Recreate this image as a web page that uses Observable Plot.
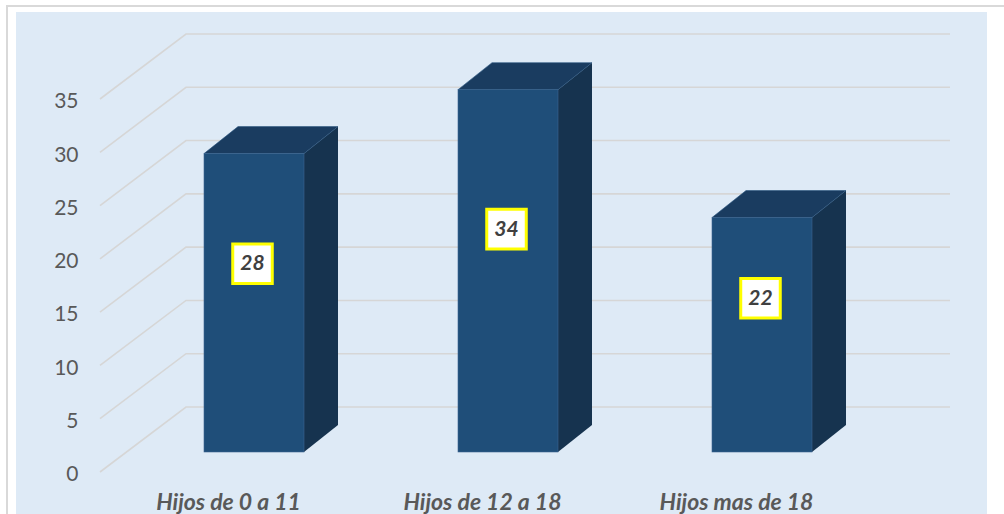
<!DOCTYPE html>
<html>
<head>
<meta charset="utf-8">
<script src="https://cdn.jsdelivr.net/npm/d3@7"></script>
<script src="https://cdn.jsdelivr.net/npm/@observablehq/plot@0.6"></script>
<style>
  html, body { margin: 0; padding: 0; background: #ffffff; }
  #wrap { position: relative; width: 1004px; height: 514px; overflow: hidden; }
  #frame { position: absolute; left: 6px; top: 5px; width: 1010px; height: 520px;
           border-left: 2px solid #d9d9d9; border-top: 2px solid #d9d9d9; }
  #panel { position: absolute; left: 16px; top: 12px; width: 971px; height: 510px; background: #deeaf6; }
  #chart { position: absolute; left: 0; top: 0; }
</style>
</head>
<body>
<div id="wrap">
  <div id="frame"></div>
  <div id="panel"></div>
  <div id="chart"></div>
</div>
<script>
// ---- data ----
const categories = ["Hijos de 0 a 11", "Hijos de 12 a 18", "Hijos mas de 18"];
const values = [28, 34, 22];
const yTicks = [0, 5, 10, 15, 20, 25, 30, 35];

const rows = categories.map((c, i) => ({cat: c, value: values[i]}));

// ---- 3D geometry (pixels) ----
const DEPTH_X = 86, DEPTH_Y = -65;   // wall depth
const BAR_DX = 26, BAR_DY = -20;     // bar front plane offset
const BAR_DEPTH_X = 34, BAR_DEPTH_Y = -27;
const INSET = 77;

const gridColor = "#d6d6d6";
const frontColor = "#1f4e79";
const topColor = "#1a3c60";
const sideColor = "#16334f";

// label anchor inside the bar (Excel-like placement)
const labelY = d => d.value * 0.54 + 2.6;

function gridMark() {
  return Plot.ruleY(yTicks, {
    render(index, scales, vals, dims) {
      const g = d3.create("svg:g");
      const x0 = dims.marginLeft, x1 = dims.width - dims.marginRight;
      for (const i of index) {
        const y = scales.y(yTicks[i]);
        g.append("path")
          .attr("d", `M${x0},${y}L${x0 + DEPTH_X},${y + DEPTH_Y}L${x1 + DEPTH_X},${y + DEPTH_Y}`)
          .attr("fill", "none")
          .attr("stroke", gridColor)
          .attr("stroke-width", 1.6);
      }
      return g.node();
    }
  });
}

function bars3d() {
  return Plot.barY(rows, {
    x: "cat", y: "value",
    render(index, scales, vals, dims) {
      const g = d3.create("svg:g");
      const bw = scales.x.bandwidth();
      for (const i of index) {
        const d = rows[i];
        const x1 = scales.x(d.cat) + INSET + BAR_DX;
        const x2 = scales.x(d.cat) + bw - INSET + BAR_DX;
        const yt = scales.y(d.value) + BAR_DY;
        const yb = scales.y(0) + BAR_DY;
        const ex = BAR_DEPTH_X, ey = BAR_DEPTH_Y;
        g.append("path")
          .attr("d", `M${x2},${yt}L${x2 + ex},${yt + ey}L${x2 + ex},${yb + ey}L${x2},${yb}Z`)
          .attr("fill", sideColor);
        g.append("path")
          .attr("d", `M${x1},${yt}L${x2},${yt}L${x2 + ex},${yt + ey}L${x1 + ex},${yt + ey}Z`)
          .attr("fill", topColor)
          .attr("stroke", "#2a5680").attr("stroke-width", 0.6).attr("stroke-linejoin", "round");
        g.append("rect")
          .attr("x", x1).attr("y", yt).attr("width", x2 - x1).attr("height", yb - yt)
          .attr("fill", frontColor)
          .attr("stroke", "#3c6590").attr("stroke-width", 0.6);
      }
      return g.node();
    }
  });
}

const chart = Plot.plot({
  width: 1004,
  height: 514,
  marginLeft: 100,
  marginRight: 140,
  marginTop: 99,
  marginBottom: 42,
  style: {background: "transparent", fontFamily: "Lato, 'Open Sans', sans-serif", fontSize: "21px", overflow: "visible"},
  x: {domain: categories, padding: 0, label: null},
  y: {domain: [0, 35], label: null},
  marks: [
    gridMark(),
    Plot.axisY(yTicks, {tickSize: 0, tickPadding: 22, fill: "#595959", fontSize: 21, dy: 2, label: null}),
    Plot.axisX({tickSize: 0, tickPadding: 21, fill: "#595959", fontSize: 23, fontWeight: "bold", fontStyle: "italic", label: null}),
    bars3d(),
    Plot.dot(rows, {x: "cat", y: labelY, dx: BAR_DX - 2, dy: BAR_DY,
      symbol: "square", r: 22.3, fill: "white", stroke: "#ffff00", strokeWidth: 3}),
    Plot.text(rows, {x: "cat", y: labelY, text: d => String(d.value), dx: BAR_DX - 2, dy: BAR_DY,
      fill: "#404040", fontSize: 21, fontWeight: "bold", fontStyle: "italic"})
  ]
});
document.getElementById("chart").appendChild(chart);
</script>
</body>
</html>
